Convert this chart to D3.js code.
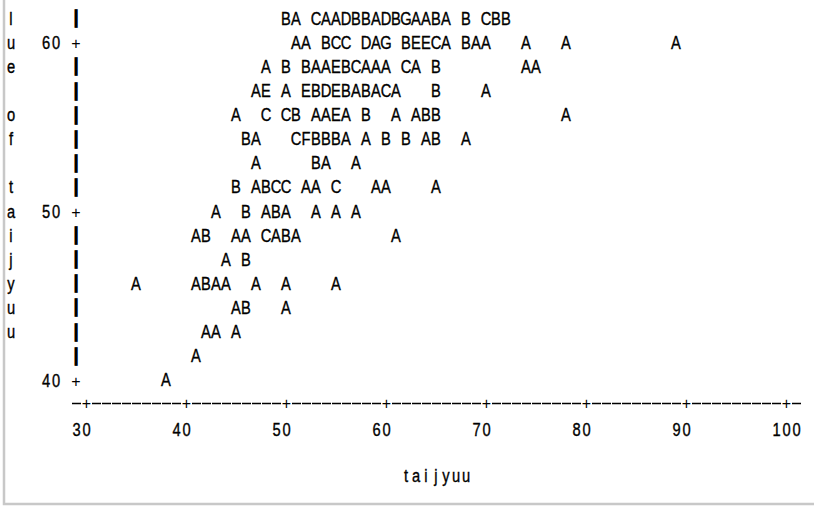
<!DOCTYPE html>
<html><head><meta charset="utf-8">
<script src="https://cdn.jsdelivr.net/npm/d3@7/dist/d3.min.js"></script>
<style>
body{margin:0;background:#fff}
text{font-family:"Liberation Sans",Arial,sans-serif;font-size:17.5px;fill:#000}
text.g{stroke:#000;stroke-width:0.35px}
</style>
</head><body>
<svg id="c" width="814" height="506"></svg>
<script>
// ---- data ----
const xTicks = [30, 40, 50, 60, 70, 80, 90, 100];
const yTicks = [40, 50, 60];
// plot rows (value of each printed line), bottom -> top
const rowLevels = [40, 41.43, 42.86, 44.29, 45.71, 47.14, 48.57, 50, 51.43, 52.86, 54.29, 55.71, 57.14, 58.57, 60, 61.43];
// vertical axis label characters, bottom -> top (top part cut off)
const yLabelChars = ["", "", "u", "u", "y", "j", "i", "a", "t", "", "f", "o", "", "e", "u", "l"];
const xTitle = "taijyuu";
// taijyuu values of plotted points, one array per row (bottom -> top)
const rowTaijyuu = [
  [38],
  [41],
  [42, 43, 45],
  [45, 46, 50],
  [35, 41, 42, 43, 44, 47, 50, 55],
  [44, 46],
  [41, 42, 45, 46, 48, 49, 50, 51, 61],
  [43, 46, 48, 49, 50, 53, 55, 57],
  [45, 47, 48, 49, 50, 52, 53, 55, 59, 60, 65],
  [47, 53, 54, 57],
  [46, 47, 51, 52, 53, 54, 55, 56, 58, 60, 62, 64, 65, 68],
  [45, 48, 50, 51, 53, 54, 55, 56, 58, 61, 63, 64, 65, 78],
  [47, 48, 50, 52, 53, 54, 55, 56, 57, 58, 59, 60, 61, 65, 70],
  [48, 50, 52, 53, 54, 55, 56, 57, 58, 59, 60, 62, 63, 65, 74, 75],
  [51, 52, 54, 55, 56, 58, 59, 60, 62, 63, 64, 65, 66, 68, 69, 70, 74, 78, 89],
  [50, 51, 53, 54, 55, 56, 57, 58, 59, 60, 61, 62, 63, 64, 65, 66, 68, 70, 71, 72]
];
// number of observations at each plotted position (A=1, B=2, ...)
const rowCounts = [
  [1],
  [1],
  [1, 1, 1],
  [1, 2, 1],
  [1, 1, 2, 1, 1, 1, 1, 1],
  [1, 2],
  [1, 2, 1, 1, 3, 1, 2, 1, 1],
  [1, 2, 1, 2, 1, 1, 1, 1],
  [2, 1, 2, 3, 3, 1, 1, 3, 1, 1, 1],
  [1, 2, 1, 1],
  [2, 1, 3, 6, 2, 2, 2, 1, 1, 2, 2, 1, 2, 1],
  [1, 3, 3, 2, 1, 1, 5, 1, 2, 1, 1, 2, 2, 1],
  [1, 5, 1, 5, 2, 4, 5, 2, 1, 2, 1, 3, 1, 2, 1],
  [1, 2, 2, 1, 1, 5, 2, 3, 1, 1, 1, 3, 1, 2, 1, 1],
  [1, 1, 2, 3, 3, 4, 1, 7, 2, 5, 5, 3, 1, 2, 1, 1, 1, 1, 1],
  [2, 1, 3, 1, 1, 4, 2, 2, 1, 4, 2, 7, 1, 1, 2, 1, 2, 3, 2, 2]
];

// ---- drawing ----
const svg = d3.select("#c");
const colW = 10;
const sx = 0.84;                    // horizontal squeeze to mimic the narrow terminal font
const x = d3.scaleLinear().domain([28.5, 101.5]).range([71, 801]);
const y = d3.scaleLinear().domain([40, 60]).range([380, 42.5]);
const axisCol = 29;
const capShift = 6.3;
const letter = n => String.fromCharCode(64 + n);

// frame (partly cropped box)
svg.append("path").attr("d", "M4,0V504H814").attr("fill", "none")
  .attr("stroke", "#c8c8c8").attr("stroke-width", 2.5);

// one character centred at (cx, baseline by)
function glyph(g, ch, cx, by) {
  return g.append("text").attr("class", "g")
    .attr("transform", `translate(${cx},${by}) scale(${sx},1)`)
    .attr("text-anchor", "middle").text(ch);
}
// monospace string starting with its first char centred at x0
function mono(g, str, x0, by) {
  [...str].forEach((ch, i) => { if (ch !== " ") glyph(g, ch, x0 + i * colW, by); });
}

// x axis
const gx = svg.append("g").attr("transform", "translate(0,403)")
  .call(d3.axisBottom(x).tickValues(xTicks).tickSize(0).tickSizeOuter(0).tickFormat(""));
gx.select(".domain").attr("stroke", "#000").attr("stroke-width", 1.6)
  .attr("stroke-dasharray", "9,1").attr("stroke-dashoffset", -0.5);
gx.selectAll(".tick").each(function (d) {
  const g = d3.select(this);
  g.append("rect").attr("x", -4.5).attr("y", -3).attr("width", 9).attr("height", 6).attr("fill", "#fff");
  g.append("text").attr("x", 0).attr("y", 6).attr("text-anchor", "middle").style("font-size", "16px").text("+");
  const s = String(d);
  mono(g, s, -colW, 33);
});

// x title
mono(svg, xTitle, x((28.5 + 101.5) / 2) - Math.floor(xTitle.length / 2) * colW, 482);

// y axis: tick rows "+", other rows "|"
const gy = svg.append("g").attr("transform", `translate(${x(axisCol)},0)`)
  .call(d3.axisLeft(y).tickValues(yTicks).tickSize(0).tickFormat(""));
gy.select(".domain").remove();
gy.selectAll(".tick").each(function (d) {
  const g = d3.select(this);
  g.append("text").attr("x", 0).attr("y", 6).attr("text-anchor", "middle").style("font-size", "16px").text("+");
  const s = String(d);
  mono(g, s, -(s.length + 1) * colW, capShift);
});
svg.append("g").selectAll("text")
  .data(rowLevels.filter(v => !yTicks.includes(v)))
  .join("text")
  .attr("x", x(axisCol)).attr("y", v => y(v) + 4.8)
  .attr("text-anchor", "middle")
  .style("font-size", "18px")
  .attr("stroke", "#000").attr("stroke-width", 1.7)
  .text("|");

// vertical label characters
const gl = svg.append("g");
rowLevels.forEach((v, i) => { if (yLabelChars[i]) glyph(gl, yLabelChars[i], 11, y(v) + capShift); });

// plotted points (letters = number of obs)
const pts = [];
rowLevels.forEach((lv, r) => rowTaijyuu[r].forEach((t, k) => pts.push({ t, lv, n: rowCounts[r][k] })));
svg.append("g").selectAll("text").data(pts).join("text").attr("class", "g")
  .attr("transform", d => `translate(${x(d.t)},${y(d.lv) + capShift}) scale(${sx},1)`)
  .attr("text-anchor", "middle")
  .text(d => letter(d.n));
</script>
</body></html>
